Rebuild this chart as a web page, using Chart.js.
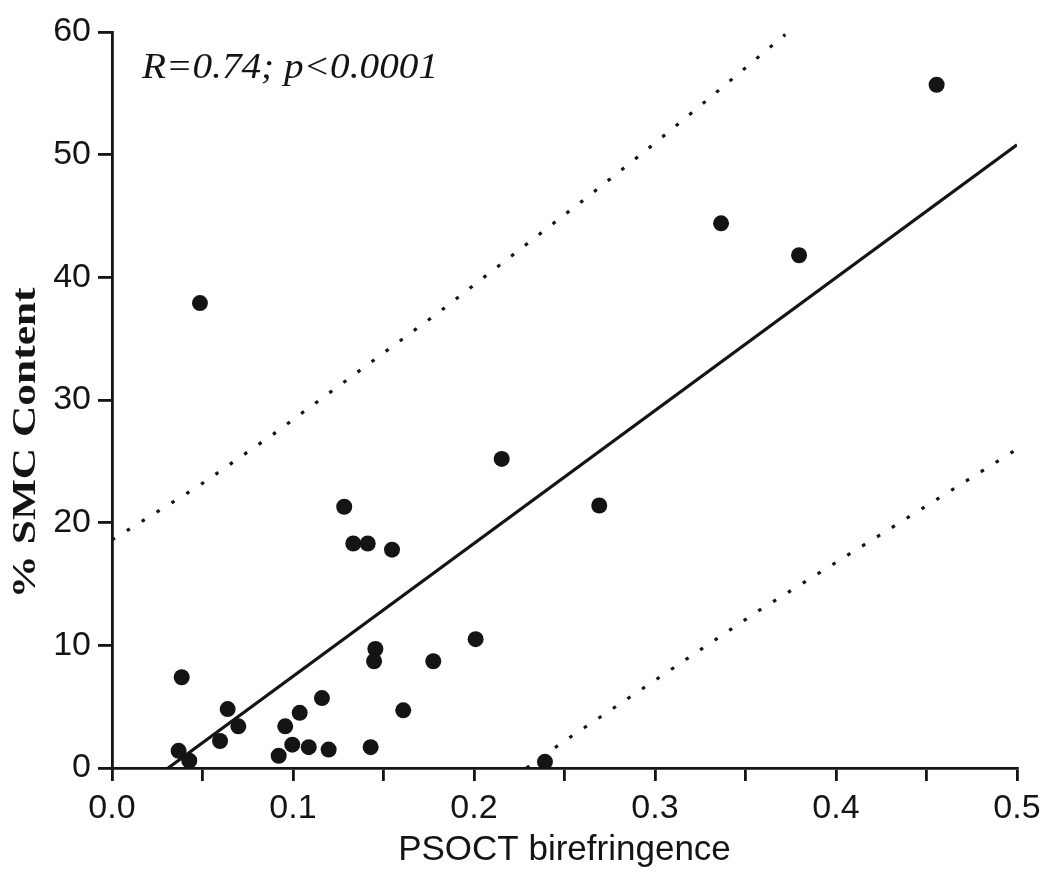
<!DOCTYPE html>
<html>
<head>
<meta charset="utf-8">
<script src="https://cdn.jsdelivr.net/npm/chart.js@4.4.1/dist/chart.umd.min.js"></script>
<style>
  html, body { margin: 0; padding: 0; background: #ffffff; }
  #wrap { width: 1050px; height: 877px; }
</style>
</head>
<body>
<div id="wrap"><canvas id="c" width="1050" height="877"></canvas></div>
<script>
// ---- data ----
const birefringence = [0.4556, 0.3365, 0.3796, 0.0486, 0.1283, 0.1333, 0.1413, 0.1547,
  0.2153, 0.2692, 0.1455, 0.1448, 0.1775, 0.2009, 0.0385, 0.0368, 0.0427, 0.0639,
  0.0597, 0.0698, 0.0921, 0.0957, 0.0996, 0.1037, 0.1087, 0.1160, 0.1197, 0.1429,
  0.1609, 0.2392];
const smcContent = [55.7, 44.4, 41.8, 37.9, 21.3, 18.3, 18.3, 17.8,
  25.2, 21.4, 9.7, 8.7, 8.7, 10.5, 7.4, 1.4, 0.6, 4.8,
  2.2, 3.4, 1.0, 3.4, 1.9, 4.5, 1.7, 5.7, 1.5, 1.7,
  4.7, 0.5];

const fitX = [0.031, 0.5];
const fitY = [0.0, 50.8];

const upperX = [0.0, 0.047, 0.089, 0.181, 0.264, 0.298, 0.330, 0.355, 0.372];
const upperY = [18.6, 22.9, 27.2, 37.2, 46.7, 50.7, 54.6, 57.7, 59.8];

const lowerX = [0.229, 0.2485, 0.357, 0.433, 0.499];
const lowerY = [0.0, 2.05, 12.8, 19.8, 25.9];

const xTicks = ['0.0', '0.1', '0.2', '0.3', '0.4', '0.5'];
const yTicks = ['0', '10', '20', '30', '40', '50', '60'];

const statsText = 'R=0.74; p<0.0001';
const xTitle = 'PSOCT birefringence';
const yTitle = '% SMC Content';

// ---- build datasets ----
const toPts = (xs, ys) => xs.map((x, i) => ({ x: x, y: ys[i] }));
const INK = '#141414';

const textPlugin = {
  id: 'texts',
  afterDraw(chart) {
    const ctx = chart.ctx;
    ctx.save();
    ctx.fillStyle = INK;
    // statistics annotation (italic serif)
    ctx.font = 'italic 35px "Liberation Serif", "Times New Roman", serif';
    ctx.textAlign = 'left';
    ctx.textBaseline = 'alphabetic';
    const w1 = ctx.measureText(statsText).width;
    ctx.translate(142, 78);
    ctx.scale(296 / w1, 1);
    ctx.fillText(statsText, 0, 0);
    ctx.restore();

    // y-axis title (bold serif, rotated)
    ctx.save();
    ctx.fillStyle = INK;
    ctx.font = 'bold 33px "Liberation Serif", "Times New Roman", serif';
    ctx.textAlign = 'center';
    ctx.textBaseline = 'alphabetic';
    const w2 = ctx.measureText(yTitle).width;
    ctx.translate(35, 443);
    ctx.rotate(-Math.PI / 2);
    ctx.scale(311 / w2, 1);
    ctx.fillText(yTitle, 0, 0);
    ctx.restore();
  }
};

const tickFont = { family: '"Liberation Sans", Arial, sans-serif', size: 34 };

new Chart(document.getElementById('c'), {
  type: 'scatter',
  data: {
    datasets: [
      {
        label: 'data',
        data: toPts(birefringence, smcContent),
        backgroundColor: INK,
        borderColor: INK,
        pointRadius: 8,
        pointBorderWidth: 0,
        showLine: false,
        order: 0
      },
      {
        label: 'fit',
        data: toPts(fitX, fitY),
        showLine: true,
        borderColor: INK,
        borderWidth: 3.2,
        pointRadius: 0,
        fill: false,
        order: 1
      },
      {
        label: 'upper',
        data: toPts(upperX, upperY),
        showLine: true,
        borderColor: INK,
        borderWidth: 3.2,
        borderDash: [3.5, 14],
        borderCapStyle: 'butt',
        pointRadius: 0,
        fill: false,
        order: 2
      },
      {
        label: 'lower',
        data: toPts(lowerX, lowerY),
        showLine: true,
        borderColor: INK,
        borderWidth: 3.2,
        borderDash: [3.5, 14],
        borderCapStyle: 'butt',
        pointRadius: 0,
        fill: false,
        order: 3
      }
    ]
  },
  options: {
    responsive: false,
    animation: false,
    layout: { padding: { left: 0, right: 33, top: 32, bottom: 0 } },
    plugins: {
      legend: { display: false },
      tooltip: { enabled: false }
    },
    scales: {
      x: {
        type: 'linear',
        min: 0,
        max: 0.5,
        afterFit: (s) => { s.height = 109; },
        border: { display: true, color: INK, width: 2.8 },
        grid: { display: true, drawOnChartArea: false, drawTicks: true, tickLength: 13, color: INK, lineWidth: 2.8 },
        ticks: {
          stepSize: 0.05,
          color: INK,
          font: tickFont,
          padding: 7,
          maxRotation: 0,
          autoSkip: false,
          callback: (v) => {
            const k = Math.round(v * 20);
            return k % 2 === 0 ? xTicks[k / 2] : '';
          }
        },
        title: {
          display: true,
          text: xTitle,
          color: INK,
          font: { family: '"Liberation Sans", Arial, sans-serif', size: 35 },
          padding: { top: 0, bottom: 6 }
        }
      },
      y: {
        type: 'linear',
        min: 0,
        max: 60,
        afterFit: (s) => { s.width = 112; },
        border: { display: true, color: INK, width: 2.8 },
        grid: { display: true, drawOnChartArea: false, drawTicks: true, tickLength: 14, color: INK, lineWidth: 2.8 },
        ticks: {
          stepSize: 10,
          color: INK,
          font: tickFont,
          padding: 7,
          callback: (v) => yTicks[Math.round(v / 10)]
        }
      }
    }
  },
  plugins: [textPlugin]
});
</script>
</body>
</html>
